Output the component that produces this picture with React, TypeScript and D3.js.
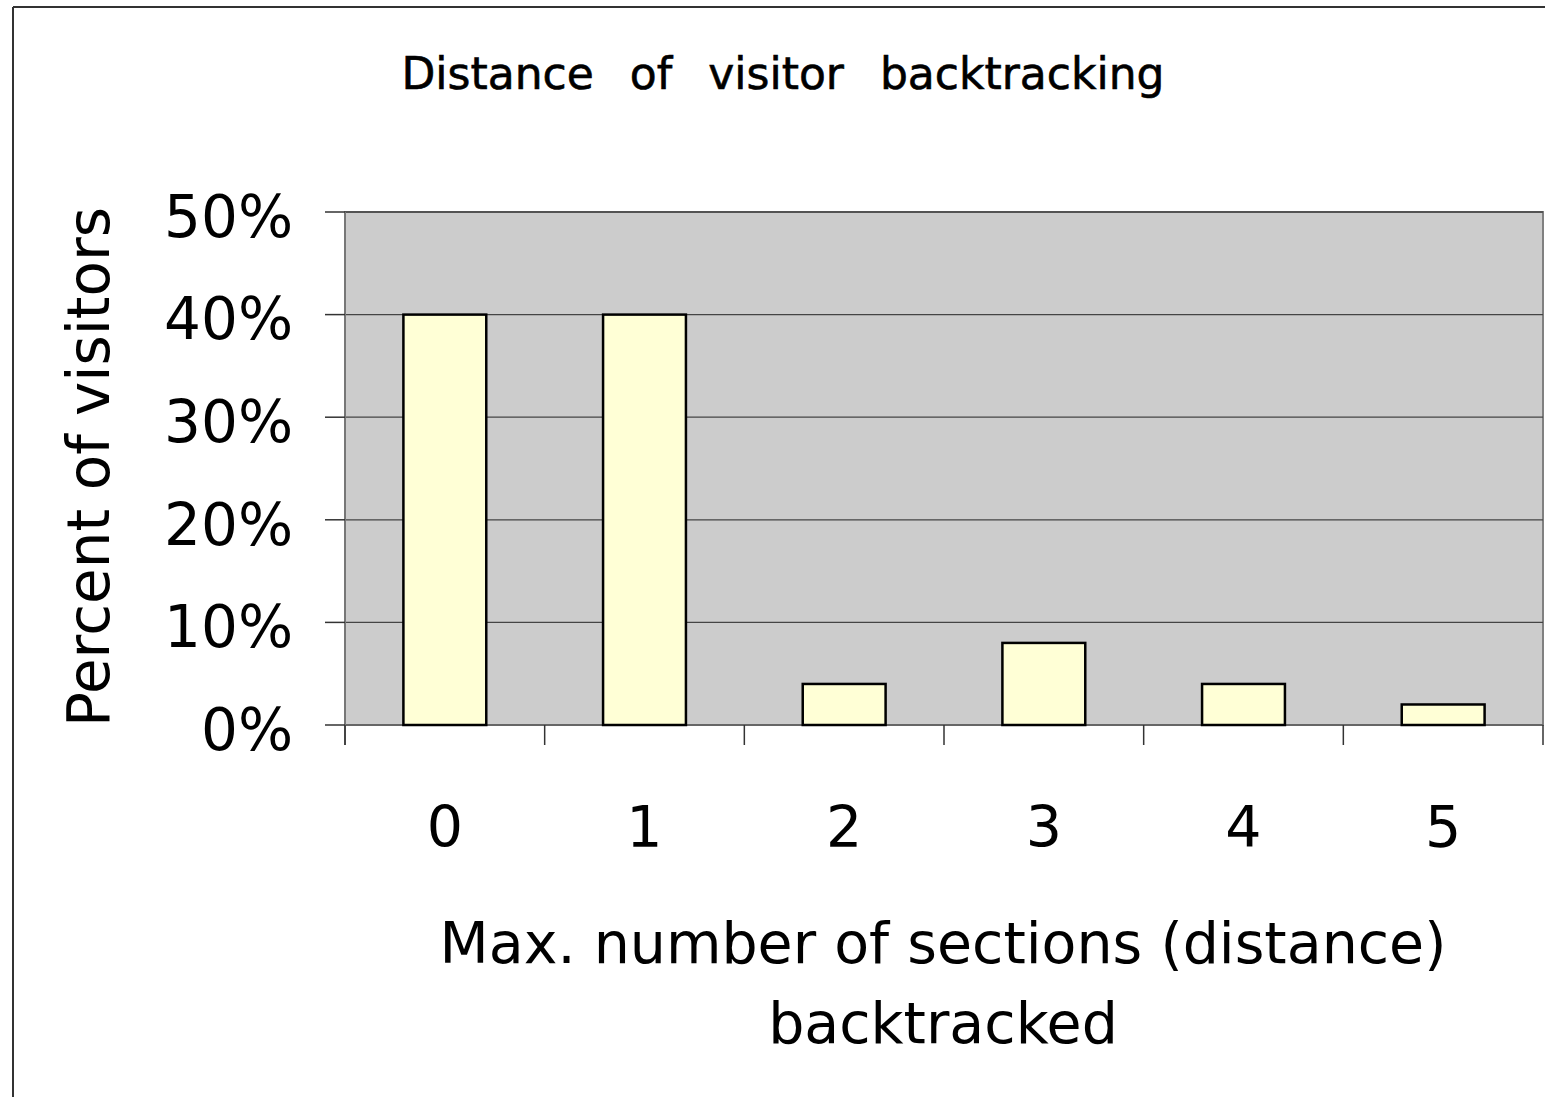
import React from "react";
import * as d3 from "d3";

const categories = ["0", "1", "2", "3", "4", "5"];
const values = [40, 40, 4, 8, 4, 2];
const yTicks = [0, 10, 20, 30, 40, 50];
const title = "Distance of visitor backtracking";
const yTitle = "Percent of visitors";
const xTitleLines = ["Max. number of sections (distance)", "backtracked"];

const W = 1545;
const H = 1097;
const plot = { left: 345, top: 212, right: 1543, bottom: 725 };
const FONT = "'DejaVu Sans', Verdana, sans-serif";

export default function App() {
  const x = d3
    .scaleBand<string>()
    .domain(categories)
    .range([plot.left, plot.right])
    .paddingInner(0.585)
    .paddingOuter(0.2925);
  const xOuter = d3.scaleBand<string>().domain(categories).range([plot.left, plot.right]);
  const y = d3.scaleLinear().domain([0, 50]).range([plot.bottom, plot.top]);

  const tickXs = [...categories.map((c) => xOuter(c)!), plot.right];

  return (
    <svg
      width={W}
      height={H}
      style={{ position: "absolute", left: 0, top: 0, background: "#fff" }}
    >
      {/* outer chart border */}
      <line x1={13} y1={7} x2={W} y2={7} stroke="#333" strokeWidth={2} />
      <line x1={13} y1={7} x2={13} y2={H} stroke="#333" strokeWidth={2} />

      {/* plot area */}
      <rect
        x={plot.left}
        y={plot.top}
        width={plot.right - plot.left}
        height={plot.bottom - plot.top}
        fill="#cccccc"
        stroke="#808080"
        strokeWidth={2}
      />

      {/* gridlines */}
      {yTicks.map((t) => (
        <line
          key={"g" + t}
          x1={plot.left}
          x2={plot.right}
          y1={y(t)}
          y2={y(t)}
          stroke={t === 0 ? "#666" : "#444"}
          strokeWidth={t === 0 ? 2 : 1.3}
        />
      ))}

      {/* y axis */}
      <line x1={plot.left} x2={plot.left} y1={plot.top} y2={plot.bottom + 20} stroke="#777" strokeWidth={2} />
      {yTicks.map((t) => (
        <g key={"yt" + t}>
          <line x1={plot.left - 20} x2={plot.left} y1={y(t)} y2={y(t)} stroke="#333" strokeWidth={1.5} />
          <text
            x={293}
            y={y(t) + 4}
            dy="0.36em"
            textAnchor="end"
            fontFamily={FONT}
            fontSize={58}
            fill="#000"
          >
            {t}%
          </text>
        </g>
      ))}

      {/* x ticks */}
      {tickXs.map((tx, i) => (
        <line key={"xt" + i} x1={tx} x2={tx} y1={plot.bottom} y2={plot.bottom + 20} stroke="#333" strokeWidth={1.5} />
      ))}

      {/* bars */}
      {categories.map((c, i) => (
        <rect
          key={"b" + c}
          x={x(c)}
          y={y(values[i])}
          width={x.bandwidth()}
          height={y(0) - y(values[i])}
          fill="#ffffd6"
          stroke="#000"
          strokeWidth={2.5}
        />
      ))}

      {/* x labels */}
      {categories.map((c) => (
        <text
          key={"xl" + c}
          x={xOuter(c)! + xOuter.bandwidth() / 2}
          y={826}
          dy="0.36em"
          textAnchor="middle"
          fontFamily={FONT}
          fontSize={57}
          fill="#000"
        >
          {c}
        </text>
      ))}

      {/* title */}
      <text
        x={783}
        y={73}
        dy="0.36em"
        textAnchor="middle"
        fontFamily={FONT}
        fontSize={44}
        wordSpacing={22}
        fill="#000"
        stroke="#000"
        strokeWidth={0.6}
      >
        {title}
      </text>

      {/* y title */}
      <text
        transform={`translate(88,467) rotate(-90)`}
        textAnchor="middle"
        dy="0.36em"
        fontFamily={FONT}
        fontSize={58}
        fill="#000"
      >
        {yTitle}
      </text>

      {/* x title */}
      {xTitleLines.map((l, i) => (
        <text
          key={"xtl" + i}
          x={943}
          y={942 + i * 80}
          dy="0.36em"
          textAnchor="middle"
          fontFamily={FONT}
          fontSize={57}
          fill="#000"
        >
          {l}
        </text>
      ))}
    </svg>
  );
}
